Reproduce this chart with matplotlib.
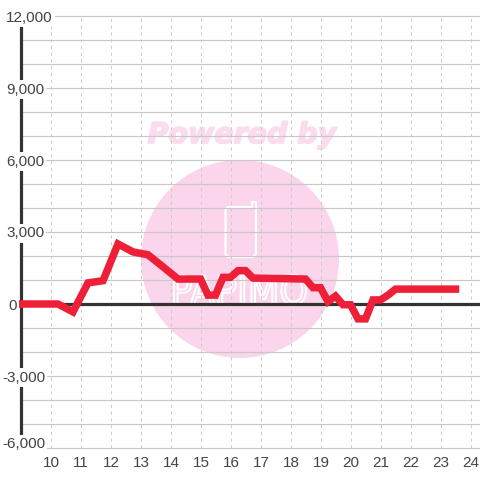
import matplotlib
matplotlib.use("Agg")
import matplotlib.pyplot as plt
import matplotlib.patheffects as pe
from matplotlib.font_manager import FontProperties
from matplotlib.patches import Circle, PathPatch, Polygon
from matplotlib.text import TextPath
from matplotlib.transforms import Affine2D, IdentityTransform, blended_transform_factory

plt.rcParams['font.family'] = ['Liberation Sans', 'DejaVu Sans']

hours = [9, 10.25, 10.75, 11.25, 11.75, 12.25, 12.75, 13.25, 13.75, 14.25, 15, 15.25, 15.5, 15.75, 16,
         16.25, 16.5, 16.75, 18.5, 18.75, 19, 19.25, 19.5, 19.75, 20, 20.25, 20.5, 20.75, 21, 21.25,
         21.5, 23.5]
values = [0, 0, -330, 880, 970, 2500, 2170, 2050, 1550, 1040, 1040, 370, 370, 1110, 1110,
          1390, 1390, 1080, 1040, 680, 680, 100, 330, -30, -30, -620, -620, 170, 170, 370,
          620, 620]
y_ticks = [12000, 9000, 6000, 3000, 0, -3000, -6000]
y_tick_labels = ["12,000", "9,000", "6,000", "3,000", "0", "-3,000", "-6,000"]
x_ticks = list(range(10, 25))

W = 480
fig = plt.figure(figsize=(4.8, 4.8), dpi=100, facecolor="white")
ax = fig.add_axes([20.5 / W, 32 / W, 459.5 / W, 432 / W])
ax.set_xlim(9, 9 + 459.5 / 30)
ax.set_ylim(-6000, 12000)
ax.patch.set_alpha(0)
for s in ax.spines.values():
    s.set_visible(False)
ax.tick_params(length=0, labelleft=False, labelbottom=False)

# watermark sits behind the axes, positions in image pixels
pix = Affine2D().scale(1, -1).translate(0, W)
pink = "#fbd5ec"
fig.add_artist(Circle((240, 259), 99, transform=pix, fc=pink, ec="none", zorder=-5))
fig.text(242 / W, 1 - 135 / W, "Powered by", color="#fbdcef", fontsize=20.5, fontweight="bold", fontstyle="italic",
         family="DejaVu Sans", ha="center", va="center", zorder=-4,
         path_effects=[pe.withStroke(linewidth=1.2, foreground="#fbdcef")])
phone = [(228, 207), (252, 207), (252, 202), (256, 202), (256, 254), (253, 257), (228, 257), (225.5, 254), (225.5, 210)]
fig.add_artist(Polygon(phone, closed=True, transform=pix, fc="none", ec="white", lw=1.6, joinstyle="round", zorder=-3))
logo = TextPath((0, 0), "PAPIMO", size=30, prop=FontProperties(family="DejaVu Sans"))
box = logo.get_extents()
logo_tf = Affine2D().translate(-box.x0, -box.y0).scale(132 / box.width, -30 / box.height).translate(174, 305) + pix
fig.add_artist(PathPatch(logo, transform=logo_tf, fc=pink, ec="white", lw=1.5, zorder=-3))

for x in x_ticks:
    ax.axvline(x, color="#cccccc", lw=0.75, ls=(0, (3, 3.5)), zorder=1)
for y in range(-6000, 12001, 1000):
    ax.axhline(y, color="#c8c8c8", lw=0.85, zorder=1, clip_on=False)

ax.plot([9, 9], [-5500, 11650], color="#333333", lw=2.3, solid_capstyle="butt", zorder=2, clip_on=False)
ax.axhline(0, color="#333333", lw=2.3, zorder=2)
ax.plot(hours, values, color="#ee2038", lw=5.4, solid_joinstyle="miter", solid_capstyle="projecting", zorder=3,
        clip_on=False)

label_x = [6, 6, 6, 6, 8, 2, 2]
label_tf = blended_transform_factory(IdentityTransform(), ax.transData)
for v, lab, lx in zip(y_ticks, y_tick_labels, label_x):
    yy = -5780 if v == -6000 else v
    ax.text(lx, yy, lab, transform=label_tf, ha="left", va="center_baseline", fontsize=11, color="#444444", zorder=4,
            clip_on=False, bbox=dict(fc="white", ec="none", pad=1.5))
for x in x_ticks:
    ax.text(x, -6000, str(x), ha="center", va="top", fontsize=11, color="#444444", zorder=4, clip_on=False,
            transform=ax.transData + Affine2D().translate(0.5, -8))

fig.savefig("out.png", dpi=100)
